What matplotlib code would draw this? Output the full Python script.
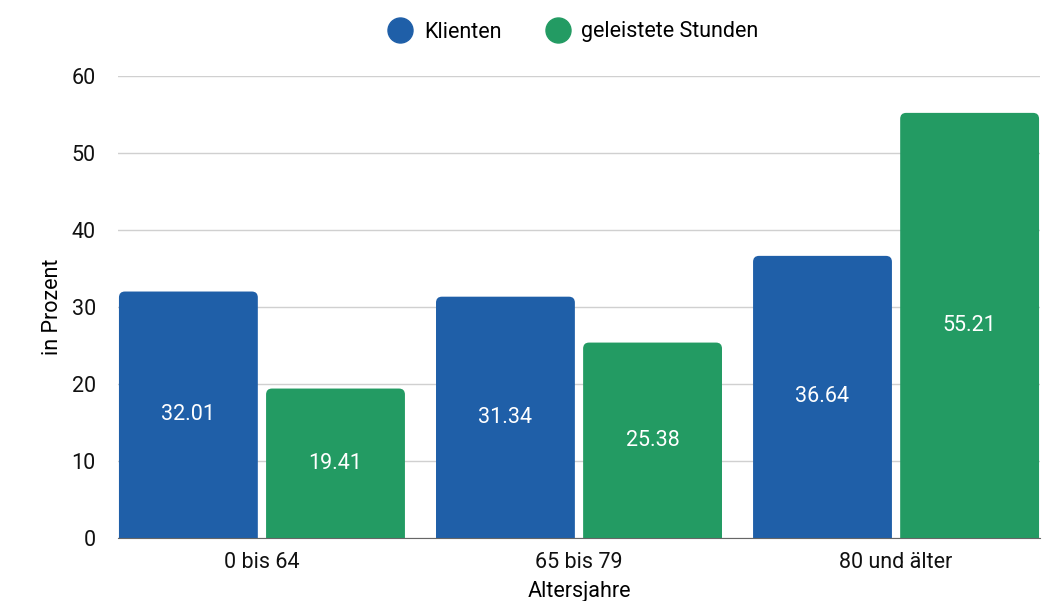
import matplotlib
matplotlib.use('Agg')
from matplotlib import pyplot as plt
from matplotlib.path import Path
from matplotlib.patches import PathPatch
from matplotlib.lines import Line2D
import numpy as np

categories = ['0 bis 64', '65 bis 79', '80 und älter']
klienten = [32.01, 31.34, 36.64]
stunden = [19.41, 25.38, 55.21]
series_names = ['Klienten', 'geleistete Stunden']
colors = ['#1f5fa8', '#239b63']

plt.rcParams['font.family'] = ['Roboto', 'DejaVu Sans']
FS = 15.5
plt.rcParams['font.size'] = FS


def rounded_bar(ax, x, w, h, color, rx, ry):
    # bar with rounded top corners only
    x0, x1 = x - w / 2, x + w / 2
    verts = [(x0, 0), (x0, h - ry), (x0, h), (x0 + rx, h),
             (x1 - rx, h), (x1, h), (x1, h - ry), (x1, 0), (x0, 0)]
    codes = [Path.MOVETO, Path.LINETO, Path.CURVE3, Path.CURVE3,
             Path.LINETO, Path.CURVE3, Path.CURVE3, Path.LINETO, Path.CLOSEPOLY]
    ax.add_patch(PathPatch(Path(verts, codes), facecolor=color, edgecolor='none', zorder=3))


fig = plt.figure(figsize=(10.55, 6.01), dpi=100)
ax = fig.add_axes([118 / 1055, 1 - 538 / 601, 922 / 1055, 462 / 601])

x = np.arange(len(categories))
width = 0.438
offset = 0.232
xlim = (-0.454, 2.454)
ylim = (0, 60)
ax.set_xlim(*xlim)
ax.set_ylim(*ylim)

# corner radius ~6px in data units
rx = 6 / (922 / (xlim[1] - xlim[0]))
ry = 6 / (462 / (ylim[1] - ylim[0]))

for i, vals in enumerate([klienten, stunden]):
    pos = x + (-offset if i == 0 else offset)
    for p, v in zip(pos, vals):
        rounded_bar(ax, p, width, v, colors[i], rx, ry)
        ax.text(p, v / 2, f'{v:.2f}', ha='center', va='center', color='white',
                fontsize=FS, zorder=4)

ax.set_yticks([0, 10, 20, 30, 40, 50, 60])
ax.grid(axis='y', color='#d0d0d0', linewidth=1, zorder=0)
ax.set_xticks(x)
ax.set_xticklabels(categories)
ax.tick_params(axis='both', length=0, labelsize=FS, colors='#111111')
ax.tick_params(axis='y', pad=16)
ax.tick_params(axis='x', pad=10)
for s in ['top', 'right', 'left']:
    ax.spines[s].set_visible(False)
ax.spines['bottom'].set_color('#666666')
ax.spines['bottom'].set_zorder(5)

ax.set_ylabel('in Prozent', fontsize=FS)
ax.yaxis.set_label_coords(-55 / 922, 0.5)
ax.set_xlabel('Altersjahre', fontsize=FS, labelpad=6)

handles = [Line2D([], [], marker='o', linestyle='none', markersize=18,
                  markerfacecolor=c, markeredgecolor=c) for c in colors]
fig.legend(handles, series_names, loc='center', bbox_to_anchor=(0.539, 1 - 32 / 601),
           ncol=2, frameon=False, fontsize=FS, handletextpad=0.1, columnspacing=1.6)

fig.savefig('out.png', dpi=100)
